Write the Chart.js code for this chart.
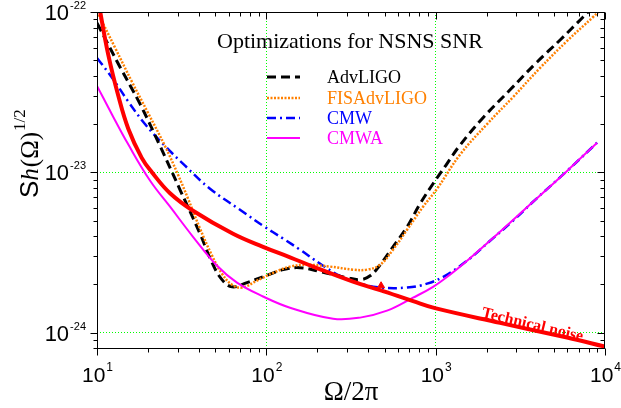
<!DOCTYPE html>
<html>
<head>
<meta charset="utf-8">
<script src="https://cdn.jsdelivr.net/npm/chart.js@4.4.0/dist/chart.umd.min.js"></script>
<style>
  html, body { margin: 0; padding: 0; background: #fff; }
</style>
</head>
<body>
<canvas id="chart-noise" width="621" height="408"></canvas>
<script>
// frequencies (Hz) and noise values
var techFreq  = [10, 10.4, 11.66, 13.36, 15.3, 18.37, 21.1, 27.0, 36.9, 63.6, 95.6, 138, 189, 325, 470, 736, 991, 2400, 5970, 10000];
var techNoise = [1.33e-22, 1.03e-22, 5.4e-23, 3.0e-23, 1.87e-23, 1.23e-23, 1.0e-23, 7.4e-24, 5.76e-24, 4.14e-24, 3.43e-24, 2.95e-24, 2.58e-24, 2.08e-24, 1.84e-24, 1.57e-24, 1.42e-24, 1.15e-24, 9.31e-25, 8.18e-25];

var advFreq = [10, 13.67, 17.95, 23.56, 30.93, 40.6, 47.8, 54.7, 62.7, 76.9, 95.6, 126, 158, 208, 300, 358, 410, 470, 560, 678, 809, 965, 1152, 1394, 1905, 2751, 3972, 5430, 7428, 8166];
var advLigo = [8.54e-23, 4.54e-23, 2.67e-23, 1.46e-23, 7.78e-24, 4.14e-24, 2.73e-24, 2.14e-24, 1.93e-24, 2.05e-24, 2.23e-24, 2.47e-24, 2.54e-24, 2.4e-24, 2.2e-24, 2.14e-24, 2.26e-24, 2.65e-24, 3.43e-24, 4.57e-24, 6.36e-24, 8.48e-24, 1.11e-23, 1.48e-23, 2.19e-23, 3.27e-23, 4.88e-23, 6.69e-23, 9.31e-23, 1.03e-22];

var fisFreq    = [10, 12.8, 16.1, 20.0, 25.2, 30.1, 34.5, 40.6, 47.8, 54.7, 62.7, 71.9, 88.1, 110, 138, 174, 238, 325, 393, 470, 560, 678, 843, 1019, 1394, 2012, 2866, 4138, 5973, 8505, 9355];
var fisAdvLigo = [1.01e-22, 5.97e-23, 3.66e-23, 2.35e-23, 1.46e-23, 9.65e-24, 6.84e-24, 4.45e-24, 3.02e-24, 2.33e-24, 1.99e-24, 1.91e-24, 2.11e-24, 2.36e-24, 2.58e-24, 2.65e-24, 2.58e-24, 2.47e-24, 2.47e-24, 2.65e-24, 3.29e-24, 4.38e-24, 6.1e-24, 7.89e-24, 1.29e-23, 2.0e-23, 2.95e-23, 4.48e-23, 6.6e-23, 9.31e-23, 1.03e-22];

var cmwFreq = [10, 12.3, 15.2, 19.2, 25.2, 33.1, 46.5, 69.9, 95.6, 126, 158, 208, 272, 358, 470, 678, 890, 1136, 1533, 2096, 2866, 3761, 5973, 8982];
var cmw     = [5.17e-23, 3.88e-23, 2.79e-23, 2.0e-23, 1.46e-23, 1.1e-23, 7.89e-24, 5.84e-24, 4.64e-24, 3.85e-24, 3.29e-24, 2.69e-24, 2.26e-24, 2.02e-24, 1.91e-24, 1.91e-24, 2.02e-24, 2.26e-24, 2.81e-24, 3.74e-24, 4.99e-24, 6.55e-24, 1.02e-23, 1.53e-23];

var cmwaFreq = [10, 12.3, 15.2, 20.6, 27.0, 36.9, 51.2, 67.1, 95.6, 138, 248, 358, 516, 735, 965, 1216, 1533, 2401, 3761, 5973, 8982];
var cmwa     = [3.46e-23, 2.28e-23, 1.51e-23, 8.85e-24, 6.1e-24, 3.96e-24, 2.61e-24, 2.05e-24, 1.68e-24, 1.43e-24, 1.22e-24, 1.24e-24, 1.37e-24, 1.65e-24, 1.93e-24, 2.3e-24, 2.81e-24, 4.26e-24, 6.55e-24, 1.02e-23, 1.53e-23];

// little triangle sitting on the technical noise curve
var markFreq  = [476];
var markNoise = [1.96e-24];

// axes
var xMin = 10, xMax = 1e4;
var yMin = 7.9e-25, yMax = 1e-22;
var xTickValues = [10, 100, 1000, 10000];
var xTickExp    = ["1", "2", "3", "4"];
var yTickValues = [1e-24, 1e-23, 1e-22];
var yTickExp    = ["-24", "-23", "-22"];

var legendNames = ["AdvLIGO", "FISAdvLIGO", "CMW", "CMWA"];
var chartTitle = "Optimizations for NSNS SNR";

function pts(xs, ys) {
    return xs.map(function(v, i) { return { x: v, y: ys[i] }; });
}

// log ticks 1..9 x 10^n, 1 flagged as major
function logTicks(min, max) {
    var out = [];
    var lo = Math.floor(Math.log10(min)) - 1, hi = Math.ceil(Math.log10(max));
    for (var n = lo; n <= hi; n++) {
        for (var k = 1; k <= 9; k++) {
            var v = parseFloat(k + "e" + n);
            if (v >= min * 0.999 && v <= max * 1.001) out.push({ value: v, major: k === 1 });
        }
    }
    return out;
}

function gridColor(min, max) {
    return function(c) {
        var t = c.tick;
        if (!t || !t.major) return "rgba(0,0,0,0)";
        if (t.value / min < 1.01 || max / t.value < 1.01) return "rgba(0,0,0,0)";
        return "#00ff00";
    };
}

function drawPow(ctx, x, y, exp, align, big, small, rise) {
    ctx.font = big;
    var w1 = ctx.measureText("10").width;
    ctx.font = small;
    var w2 = ctx.measureText(exp).width;
    var start = align === "center" ? x - (w1 + w2) / 2 : x - (w1 + w2 + 1);
    ctx.textAlign = "left";
    ctx.textBaseline = "alphabetic";
    ctx.font = big;
    ctx.fillText("10", start, y);
    ctx.font = small;
    ctx.fillText(exp, start + w1 + 1, y - rise);
}

var decor = {
    id: "decor",
    afterDraw: function(chart) {
        var ctx = chart.ctx, a = chart.chartArea;
        var xs = chart.scales.x, ys = chart.scales.y;
        var L = Math.round(a.left) + 0.5, R = Math.round(a.right) - 0.5;
        var T = Math.round(a.top) + 0.5, B = Math.round(a.bottom) - 0.5;
        ctx.save();
        ctx.strokeStyle = "#000";
        ctx.lineWidth = 1;
        ctx.setLineDash([]);
        ctx.strokeRect(L, T, R - L, B - T);

        // tick marks: outside on bottom/left, inside on top/right
        ctx.beginPath();
        xs.ticks.forEach(function(t) {
            var p = Math.round(xs.getPixelForValue(t.value)) + 0.5;
            var len = t.major ? 7 : 4;
            ctx.moveTo(p, B); ctx.lineTo(p, B + len);
            ctx.moveTo(p, T); ctx.lineTo(p, T + len);
        });
        ys.ticks.forEach(function(t) {
            var p = Math.round(ys.getPixelForValue(t.value)) + 0.5;
            var len = t.major ? 7 : 4;
            ctx.moveTo(L - len, p); ctx.lineTo(L, p);
            ctx.moveTo(R - len, p); ctx.lineTo(R, p);
        });
        ctx.stroke();

        // tick labels
        ctx.fillStyle = "#000";
        xTickValues.forEach(function(v, i) {
            drawPow(ctx, xs.getPixelForValue(v), 382, xTickExp[i], "center",
                "21px 'Liberation Sans'", "12px 'Liberation Sans'", 11);
        });
        yTickValues.forEach(function(v, i) {
            drawPow(ctx, 86, ys.getPixelForValue(v) + 8, yTickExp[i], "right",
                "22px 'Liberation Sans'", "11px 'Liberation Sans'", 11);
        });

        // x title
        ctx.font = "27px 'Liberation Serif'";
        ctx.textAlign = "center";
        ctx.fillText("\u03A9/2\u03C0", (a.left + a.right) / 2, 400);

        // y title, rotated
        ctx.save();
        ctx.translate(38, 198);
        ctx.rotate(-Math.PI / 2);
        ctx.textAlign = "left";
        var cx = 0;
        ctx.font = "26px 'Liberation Sans'";
        ctx.fillText("S", cx, 0); cx += ctx.measureText("S").width;
        ctx.font = "italic 25px 'Liberation Serif'";
        ctx.fillText("h", cx, 0); cx += ctx.measureText("h").width + 1;
        ctx.font = "25px 'Liberation Serif'";
        ctx.fillText("(\u03A9)", cx, 0); cx += ctx.measureText("(\u03A9)").width + 1;
        ctx.font = "17px 'Liberation Serif'";
        ctx.fillText("1/2", cx, -13);
        ctx.restore();

        // title and legend
        ctx.textAlign = "left";
        ctx.fillStyle = "#000";
        ctx.font = "22px 'Liberation Serif'";
        ctx.fillText(chartTitle, 217, 48);
        var rows = [77, 98, 118, 138];
        legendNames.forEach(function(name, i) {
            var ds = chart.data.datasets[i + 1];
            ctx.strokeStyle = ds.borderColor;
            ctx.lineWidth = ds.borderWidth;
            ctx.setLineDash(ds.borderDash || []);
            ctx.beginPath();
            ctx.moveTo(267, rows[i]);
            ctx.lineTo(300, rows[i]);
            ctx.stroke();
            ctx.setLineDash([]);
            ctx.fillStyle = ds.borderColor;
            ctx.font = "18px 'Liberation Serif'";
            ctx.fillText(name, 327, rows[i] + 6);
        });

        // curve label
        ctx.save();
        ctx.translate(481, 317);
        ctx.rotate(13.5 * Math.PI / 180);
        ctx.fillStyle = "#ff0000";
        ctx.font = "bold 16px 'Liberation Serif'";
        ctx.fillText("Technical noise", 0, 0);
        ctx.restore();

        ctx.restore();
    }
};

document.addEventListener("DOMContentLoaded", function() {
    var canvas = document.getElementById("chart-noise");
    if (!canvas) return;
    var ctx = canvas.getContext("2d");

    var common = { pointRadius: 0, fill: false, tension: 0.4, clip: 0 };

    new Chart(ctx, {
        type: "line",
        data: {
            datasets: [
                Object.assign({ label: "Technical noise", data: pts(techFreq, techNoise),
                    borderColor: "#ff0000", borderWidth: 4, order: 0 }, common),
                Object.assign({ label: "AdvLIGO", data: pts(advFreq, advLigo),
                    borderColor: "#000000", borderWidth: 3, borderDash: [9, 5], order: 4 }, common),
                Object.assign({ label: "FISAdvLIGO", data: pts(fisFreq, fisAdvLigo),
                    borderColor: "#ff8000", borderWidth: 2.5, borderDash: [2, 1.5], order: 3 }, common),
                Object.assign({ label: "CMW", data: pts(cmwFreq, cmw),
                    borderColor: "#0000ff", borderWidth: 2.5, borderDash: [9, 4, 2, 4], order: 5 }, common),
                Object.assign({ label: "CMWA", data: pts(cmwaFreq, cmwa),
                    borderColor: "#ff00ff", borderWidth: 2, order: 2 }, common),
                { label: "mark", data: pts(markFreq, markNoise), showLine: false,
                  pointStyle: "triangle", pointRadius: 4, pointBackgroundColor: "#ff0000",
                  pointBorderColor: "#ff0000", order: 0 }
            ]
        },
        options: {
            responsive: false,
            animation: false,
            events: [],
            layout: { padding: { left: 97, right: 16, top: 12, bottom: 59 } },
            plugins: {
                legend: { display: false },
                tooltip: { enabled: false }
            },
            scales: {
                x: {
                    type: "logarithmic",
                    min: xMin, max: xMax,
                    afterBuildTicks: function(s) { s.ticks = logTicks(xMin, xMax); },
                    ticks: { display: false },
                    grid: { drawTicks: false, color: gridColor(xMin, xMax), lineWidth: 1 },
                    border: { display: false, dash: [1, 2] }
                },
                y: {
                    type: "logarithmic",
                    min: yMin, max: yMax,
                    afterBuildTicks: function(s) { s.ticks = logTicks(yMin, yMax); },
                    ticks: { display: false },
                    grid: { drawTicks: false, color: gridColor(yMin, yMax), lineWidth: 1 },
                    border: { display: false, dash: [1, 2] }
                }
            }
        },
        plugins: [decor]
    });
});
</script>
</body>
</html>
